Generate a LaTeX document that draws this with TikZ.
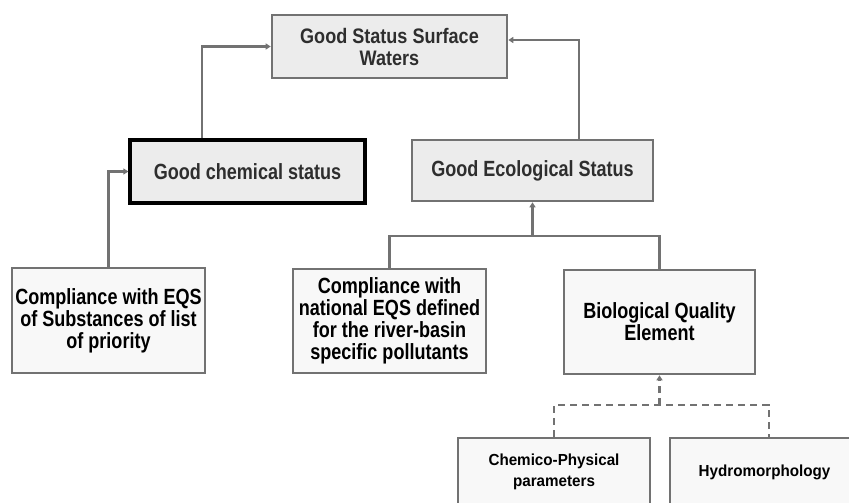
\documentclass[tikz,border=0pt]{standalone}
\usepackage{fontspec}
\setmainfont{Liberation Sans}
\newfontfamily\condA[FakeStretch=0.82]{Liberation Sans}
\newfontfamily\condB[FakeStretch=0.86]{Liberation Sans}
\newfontfamily\condC[FakeStretch=0.95]{Liberation Sans}
\usetikzlibrary{arrows.meta}
\definecolor{boxgray}{HTML}{ECECEC}
\definecolor{boxlight}{HTML}{F8F8F8}
\definecolor{edgegray}{HTML}{727272}
\definecolor{txtgray}{HTML}{2E2E2E}
\tikzset{
  basebox/.style={draw=edgegray, line width=2.6pt, align=center, inner sep=2pt,
    font=\condA\bfseries\fontsize{22}{22}\selectfont},
  greybox/.style={basebox, fill=boxgray, text=txtgray},
  topbox/.style={greybox, font=\condB\bfseries\fontsize{21}{22}\selectfont},
  lightbox/.style={basebox, fill=boxlight, text=black},
  smallbox/.style={lightbox, font=\condC\bfseries\fontsize{16}{21}\selectfont},
  conn/.style={draw=edgegray, line width=2.4pt},
  arr/.style={conn, -{Triangle[length=5pt,width=6pt]}},
  darr/.style={arr, dashed, dash pattern=on 7pt off 5pt},
}
\begin{document}
\begin{tikzpicture}[x=1pt,y=-1pt]
\useasboundingbox (0,0) rectangle (849,503);
\clip (0,0) rectangle (849,503);
\node[topbox, minimum width=235pt, minimum height=63pt] (top) at (389.5,46.5) {Good Status Surface\\Waters};
\node[greybox, draw=black, line width=3.2pt, minimum width=235pt, minimum height=63pt] (chem) at (247.5,171.5) {Good chemical status};
\node[greybox, minimum width=241pt, minimum height=61pt] (eco) at (532.5,170.5) {Good Ecological Status};
\node[lightbox, minimum width=193pt, minimum height=105pt] (c1) at (108.5,320.5) {Compliance with EQS\\of Substances of list\\of priority};
\node[lightbox, minimum width=193pt, minimum height=104pt] (c2) at (389.5,321) {Compliance with\\national EQS defined\\for the river-basin\\specific pollutants};
\node[lightbox, minimum width=191pt, minimum height=104pt] (bqe) at (659.5,322) {Biological Quality\\Element};
\node[smallbox, minimum width=192pt, minimum height=68pt] (cp) at (554,472) {Chemico-Physical\\parameters};
\node[smallbox, minimum width=189pt, minimum height=68pt] (hy) at (764.5,472) {Hydromorphology};
% connectors
\draw[arr] ([xshift=-45.5pt]chem.north) |- (top.west);
\draw[arr] ([xshift=46.5pt]eco.north) |- ([yshift=6.5pt]top.east);
\draw[arr] (c1.north) |- (chem.west);
\coordinate (j1) at (532.5,236);
\draw[conn] (c2.north) |- (j1) -| (bqe.north);
\draw[arr] (j1) -- (eco.south);
\coordinate (j2) at (659.5,405);
\draw[conn, dashed, dash pattern=on 7pt off 5pt] (cp.north) |- (j2) -| ([xshift=4.5pt]hy.north);
\draw[darr] (j2) -- (bqe.south);
\end{tikzpicture}
\end{document}
